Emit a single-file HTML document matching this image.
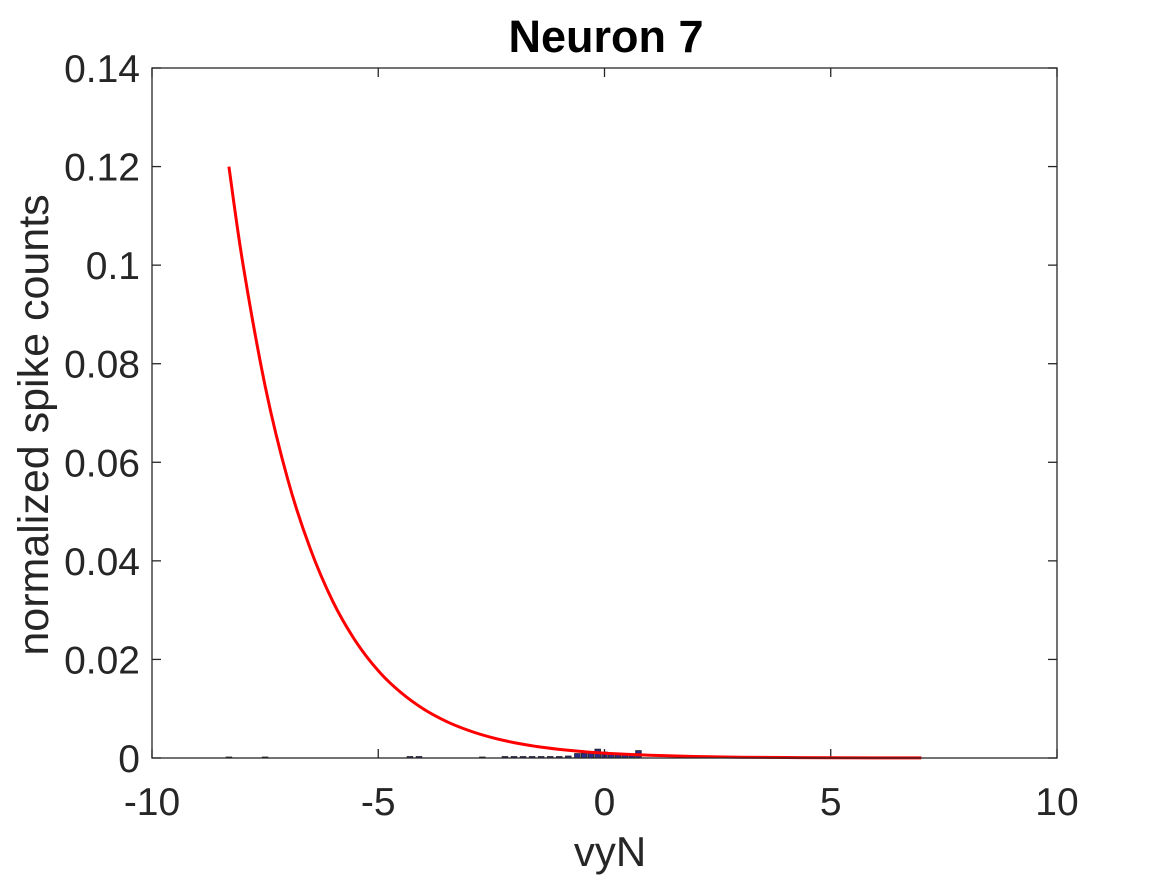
<!DOCTYPE html>
<html><head><meta charset="utf-8"><style>
body{margin:0;background:#fff}
svg{display:block;font-family:"Liberation Sans",sans-serif}
</style></head><body>
<svg id="chart" width="1167" height="875">
<rect width="1167" height="875" fill="#fff"/>
<text x="606" y="52" font-size="45" font-weight="bold" text-anchor="middle" fill="#000">Neuron 7</text>
<text x="610" y="866" font-size="42" text-anchor="middle" fill="#262626">vyN</text>
<text transform="translate(48,425) rotate(-90)" font-size="43" text-anchor="middle" fill="#262626">normalized spike counts</text>
<g id="bars"></g>
<g id="ticks"></g>
<path id="curve" fill="none" stroke="#ff0000" stroke-width="3"/>
<rect x="152" y="68" width="905" height="690" fill="none" stroke="#262626" stroke-width="1.3"/>
</svg>
<script>
const xTicks=[-10,-5,0,5,10];
const yTicks=[0,0.02,0.04,0.06,0.08,0.1,0.12,0.14];
const yTickLabels=["0","0.02","0.04","0.06","0.08","0.1","0.12","0.14"];
const curveX=[-8.3,-8,-7.5,-7,-6.5,-6,-5.5,-5,-4.5,-4,-3.5,-3,-2.5,-2,-1.5,-1,-0.5,0,1,2,3,4,5,7];
const curveY=[0.12,0.1008,0.0755,0.0565,0.0424,0.0317,0.0237,0.0177,0.0133,0.00995,0.00745,0.00558,0.00418,0.00313,0.00234,0.00175,0.00131,0.00098,0.00055,0.00031,0.00017,0.0001,0.00005,0.00002];
const barX=[-8.3,-7.5,-4.3,-4.1,-2.7,-2.2,-2,-1.8,-1.6,-1.4,-1.2,-1,-0.8,-0.6,-0.45,-0.3,-0.15,0,0.15,0.3,0.45,0.6,0.75];
const barY=[0.0002,0.0002,0.0003,0.0003,0.0002,0.0003,0.0003,0.0003,0.0003,0.0003,0.0003,0.0003,0.0004,0.0009,0.001,0.0012,0.0018,0.0012,0.001,0.0009,0.0009,0.0008,0.0015];
const X0=152,X1=1057,Y0=758,Y1=68;
const sx=v=>X0+(v+10)/20*(X1-X0);
const sy=v=>Y0-v/0.14*(Y0-Y1);
const NS="http://www.w3.org/2000/svg";
const tg=document.getElementById('ticks');
function mk(t,a,p){const e=document.createElementNS(NS,t);for(const k in a)e.setAttribute(k,a[k]);p.appendChild(e);return e;}
xTicks.forEach(v=>{
 const x=sx(v);
 const l=mk('line',{x1:x,x2:x,y1:Y0,y2:Y0-9,stroke:'#262626','stroke-width':1.3},tg);
 
 
 const l2=mk('line',{x1:x,x2:x,y1:Y1,y2:Y1+9,stroke:'#262626','stroke-width':1.3},tg);
 
 
 const t=mk('text',{x:x,y:815,'font-size':39,'text-anchor':'middle',fill:'#262626'},tg);
 t.textContent=String(v);
 
 
});
yTicks.forEach((v,i)=>{
 const y=sy(v);
 const l=mk('line',{x1:X0,x2:X0+9,y1:y,y2:y,stroke:'#262626','stroke-width':1.3},tg);
 
 
 const l2=mk('line',{x1:X1,x2:X1-9,y1:y,y2:y,stroke:'#262626','stroke-width':1.3},tg);
 
 
 const t=mk('text',{x:140,y:y+14,'font-size':39,'text-anchor':'end',fill:'#262626'},tg);
 t.textContent=yTickLabels[i];
 
 
});
const bg=document.getElementById('bars');
const bw=(X1-X0)/20*0.125;
barX.forEach((v,i)=>{
 const y=sy(barY[i]);
 const r=mk('rect',{x:sx(v)-bw/2,y:y,width:bw,height:Y0-y,fill:'#2b2b8a',stroke:'#222','stroke-width':0.8},bg);
 
 
});
const pts=curveX.map((v,i)=>[sx(v),sy(curveY[i])]);
let d='M'+pts[0][0].toFixed(1)+','+pts[0][1].toFixed(1);
for(let i=0;i<pts.length-1;i++){
 const p0=pts[Math.max(0,i-1)],p1=pts[i],p2=pts[i+1],p3=pts[Math.min(pts.length-1,i+2)];
 const c1=[p1[0]+(p2[0]-p0[0])/6,p1[1]+(p2[1]-p0[1])/6];
 const c2=[p2[0]-(p3[0]-p1[0])/6,p2[1]-(p3[1]-p1[1])/6];
 d+='C'+c1.map(n=>n.toFixed(1)).join(',')+' '+c2.map(n=>n.toFixed(1)).join(',')+' '+p2.map(n=>n.toFixed(1)).join(',');
}
document.getElementById('curve').setAttribute('d',d);
</script>
</body></html>
